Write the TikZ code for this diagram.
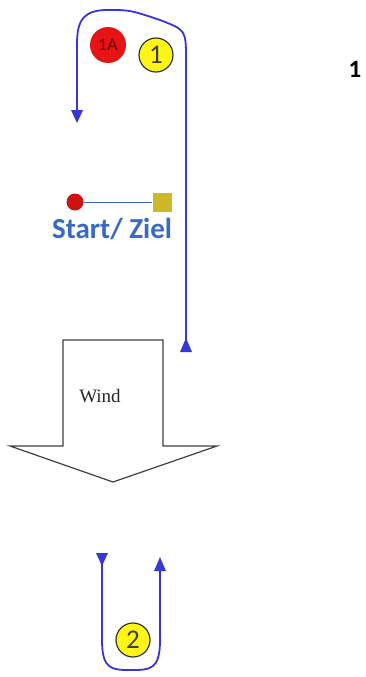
\documentclass[tikz,border=0pt]{standalone}
\usepackage{fontspec}
\setmainfont{Liberation Serif}
\newfontfamily\carlitofont{Carlito}
\usetikzlibrary{arrows.meta}
\definecolor{pathblue}{RGB}{55,55,215}
\definecolor{txtblue}{RGB}{55,105,200}
\definecolor{buoyred}{RGB}{230,20,20}
\definecolor{buoyyel}{RGB}{255,245,20}
\definecolor{olive}{RGB}{205,185,40}
\tikzset{
  course/.style={draw=pathblue, line width=1.8pt},
  tipfill/.style={fill=pathblue},
  yelbuoy/.style={circle, fill=buoyyel, draw=black!80, line width=1.2pt, minimum size=34pt, inner sep=0pt, font=\carlitofont\fontsize{27}{27}\selectfont, text=black!75},
}
\begin{document}
\begin{tikzpicture}[x=1pt,y=-1pt]
\useasboundingbox (0,0) rectangle (366,677);
% top course
\draw[course] (186,350) -- (186,60) .. controls (186,30) .. (160,20) .. controls (130,10) .. (107,10) .. controls (80,10) and (77,25) .. (77,45) -- (77,112);
\fill[tipfill] (77,123) -- (71,110) -- (83,110) -- cycle;
\fill[tipfill] (186,338) -- (180,352) -- (192,352) -- cycle;
% buoys
\node[circle, fill=buoyred, minimum size=36pt, inner sep=0pt, font=\carlitofont\fontsize{18}{18}\selectfont, text=black!55!red] (b1a) at (108,45) {1A};
\node[yelbuoy] (b1) at (156,55) {1};
% start / finish
\node[circle, fill=buoyred!90!black, minimum size=17pt, inner sep=0pt] (st) at (75,202) {};
\node[rectangle, fill=olive, minimum size=19pt, inner sep=0pt] (zi) at (162,202) {};
\draw[txtblue, line width=1pt] (st) -- (zi);
\node[font=\carlitofont\bfseries\fontsize{29}{29}\selectfont, text=txtblue, inner sep=0pt] (sz) at (112,229) {Start/ Ziel};
% label 1
\node[font=\carlitofont\bfseries\fontsize{25}{25}\selectfont, inner sep=0pt] (n1) at (355,69) {1};
% wind arrow
\draw[black!75, line width=1.2pt, fill=white] (63,340) -- (163,340) -- (163,446) -- (217,446) -- (113,482) -- (10,446) -- (63,446) -- cycle;
\node[font=\fontsize{19}{19}\selectfont, text=black!85] (w) at (100,396) {Wind};
% bottom course
\draw[course] (102,555) -- (102,640) .. controls (102,670) and (112,670) .. (131,670) .. controls (150,670) and (160,670) .. (160,640) -- (160,560);
\fill[tipfill] (102,566) -- (96,553) -- (108,553) -- cycle;
\fill[tipfill] (160,557) -- (154,571) -- (166,571) -- cycle;
\node[yelbuoy] (b2) at (133,640) {2};
\end{tikzpicture}
\end{document}
